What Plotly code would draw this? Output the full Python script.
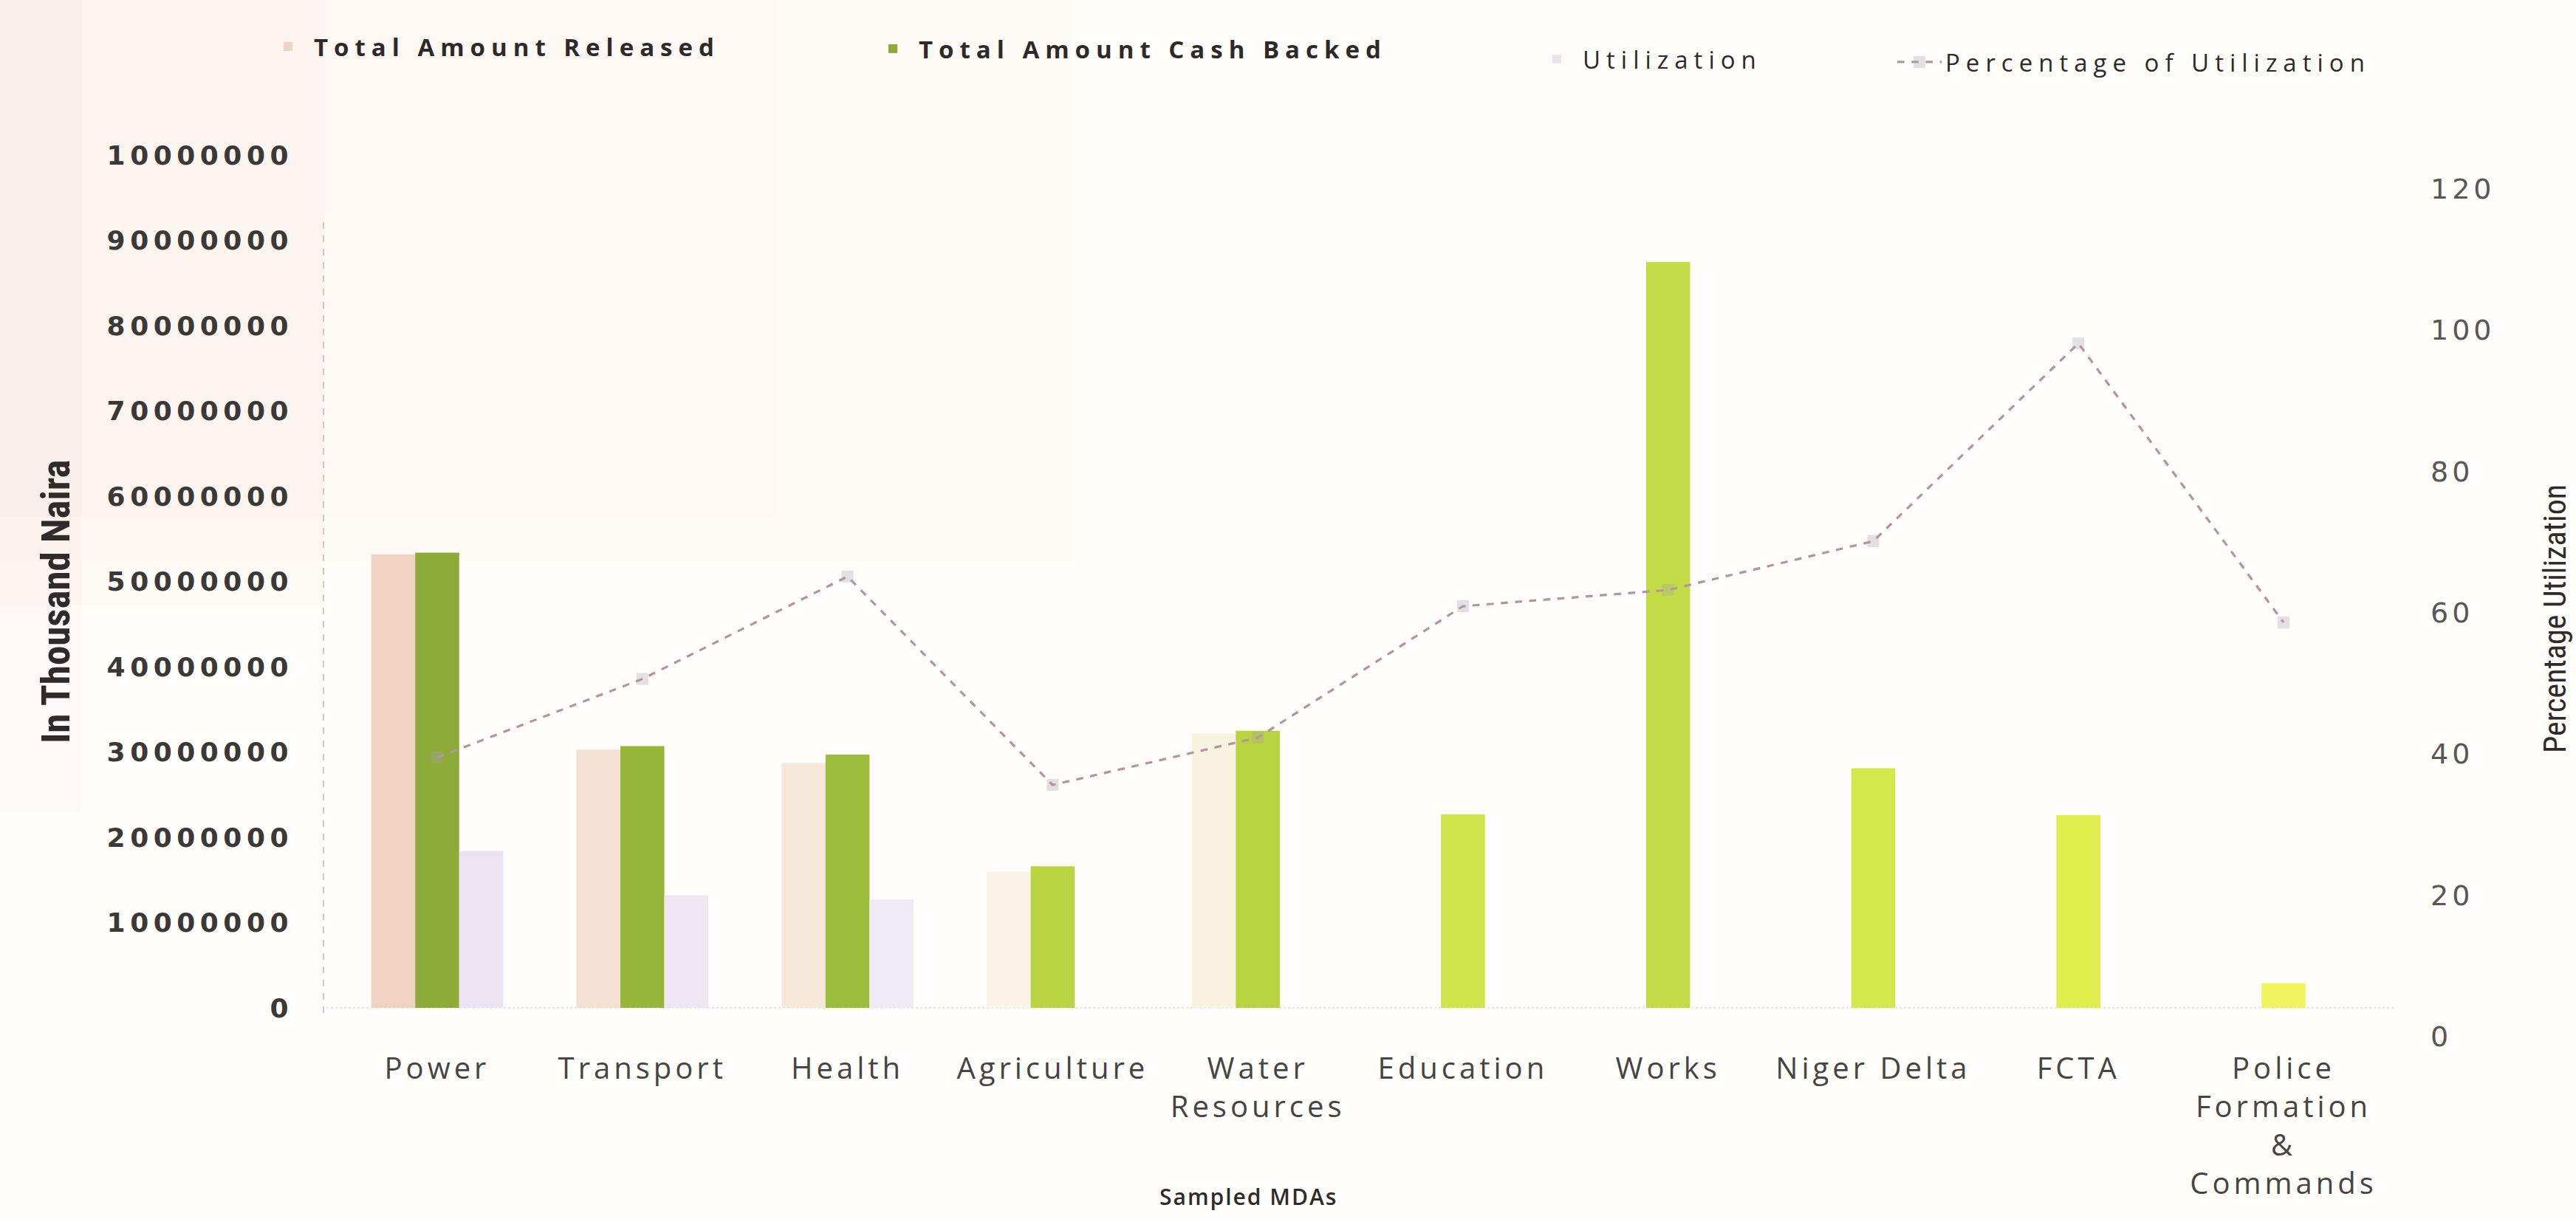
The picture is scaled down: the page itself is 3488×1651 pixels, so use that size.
import plotly.graph_objects as go

# Sampled MDAs (category labels, line breaks as printed under the axis)
mda_labels = [
    "Power", "Transport", "Health", "Agriculture", "Water<br>Resources",
    "Education", "Works", "Niger Delta", "FCTA",
    "Police<br>Formation<br>&<br>Commands",
]

# Amounts in thousand Naira
amount_released = [53200000, 30300000, 28700000, 16000000, 32200000,
                   None, None, None, None, None]
amount_cash_backed = [53400000, 30700000, 29700000, 16600000, 32500000,
                      22700000, 87500000, 28100000, 22600000, 2900000]
amount_utilized = [18400000, 13200000, 12700000,
                   None, None, None, None, None, None, None]

# Percentage of utilization (right axis)
pct_utilization = [39.5, 50.6, 65.1, 35.6, 42.3, 60.9, 63.2, 70.1, 98.1, 58.6]

# Axis ticks
left_tick_values = [0, 10000000, 20000000, 30000000, 40000000, 50000000,
                    60000000, 70000000, 80000000, 90000000, 100000000]
left_tick_labels = ["0", "10000000", "20000000", "30000000", "40000000",
                    "50000000", "60000000", "70000000", "80000000",
                    "90000000", "10000000"]
right_tick_values = [0, 20, 40, 60, 80, 100, 120]

# Bar colours (faded print tones)
released_colors = ["#f0d3c2", "#f4e0d1", "#f6e9da", "#faf4e6", "#f8f2e0",
                   "#ffffff", "#ffffff", "#ffffff", "#ffffff", "#ffffff"]
cash_colors = ["#8cab37", "#95b639", "#9cbd3b", "#b9d440", "#b8d340",
               "#cfe34a", "#c3dc45", "#d3e84b", "#dfee4c", "#eff45e"]
utilized_colors = ["#ebe2f2", "#eee7f3", "#f0eaf4", "#ffffff", "#ffffff",
                   "#ffffff", "#ffffff", "#ffffff", "#ffffff", "#ffffff"]

W, H = 3488, 1651
ML, MR, MT, MB = 442, 246, 200, 241
PW, PH = W - ML - MR, H - MT - MB


def px_x(x):
    return (x - ML) / PW


def px_y(y):
    return (H - MB - y) / PH


fig = go.Figure()

fig.add_trace(go.Bar(
    x=mda_labels, y=amount_released, name="<b>Total Amount Released</b>",
    marker=dict(color=released_colors, line=dict(width=0)),
    legend="legend",
))
fig.add_trace(go.Bar(
    x=mda_labels, y=amount_cash_backed, name="<b>Total Amount Cash Backed</b>",
    marker=dict(color=cash_colors, line=dict(width=0)),
    legend="legend2",
))
fig.add_trace(go.Bar(
    x=mda_labels, y=amount_utilized, name="Utilization",
    marker=dict(color=utilized_colors, line=dict(width=0)),
    legend="legend3",
))
fig.add_trace(go.Scatter(
    x=mda_labels, y=pct_utilization, name="Percentage of Utilization",
    yaxis="y2", mode="lines+markers",
    line=dict(color="#b7929f", width=3.2, dash="dash"),
    marker=dict(color="rgba(170,160,175,0.32)", size=16, symbol="square"),
    legend="legend4",
))

legend_common = dict(
    orientation="h", xanchor="left", yanchor="middle",
    bgcolor="rgba(0,0,0,0)", borderwidth=0,
    font=dict(family="Open Sans, sans-serif", size=33, color="#2e2a2a"),
    itemwidth=60,
)

fig.update_layout(
    template="none",
    width=W, height=H, autosize=False,
    margin=dict(l=ML, r=MR, t=MT, b=MB, pad=0),
    paper_bgcolor="#fffefb", plot_bgcolor="rgba(0,0,0,0)",
    barmode="group", bargap=0.357, bargroupgap=0,
    showlegend=True,
    legend=dict(legend_common, x=px_x(355), y=px_y(63)),
    legend2=dict(legend_common, x=px_x(1174), y=px_y(66)),
    legend3=dict(legend_common, x=px_x(2073), y=px_y(80)),
    legend4=dict(legend_common, x=px_x(2564), y=px_y(84)),
    xaxis=dict(
        type="category", tickangle=0, automargin=False,
        showgrid=False, showline=False, zeroline=False, ticks="",
        ticklabelstandoff=10,
        tickfont=dict(family="Open Sans, sans-serif", size=40, color="#474444"),
    ),
    yaxis=dict(
        range=[-3.9e6, 100.9e6], automargin=False,
        tickvals=left_tick_values, ticktext=left_tick_labels,
        showgrid=False, showline=False, zeroline=False, ticks="",
        ticklabelstandoff=44,
        tickfont=dict(family="DejaVu Sans, sans-serif", size=36,
                      color="#3b3838", weight="bold"),
    ),
    yaxis2=dict(
        range=[-0.65, 125.8], overlaying="y", side="right", automargin=False,
        tickvals=right_tick_values,
        showgrid=False, showline=False, zeroline=False, ticks="",
        ticklabelstandoff=48,
        tickfont=dict(family="DejaVu Sans, sans-serif", size=38, color="#5a5656"),
    ),
    annotations=[
        dict(text="<b>In Thousand Naira</b>", textangle=-90,
             xref="paper", yref="paper", x=px_x(76), y=px_y(815),
             showarrow=False, xanchor="center", yanchor="middle",
             font=dict(family="Liberation Sans Narrow, Roboto Condensed, Liberation Sans, sans-serif",
                       size=53, color="#2f2b2b")),
        dict(text="Percentage Utilization", textangle=-90,
             xref="paper", yref="paper", x=px_x(3459), y=px_y(838),
             showarrow=False, xanchor="center", yanchor="middle",
             font=dict(family="Liberation Sans Narrow, Roboto Condensed, Liberation Sans, sans-serif",
                       size=42, color="#2f2b2b")),
        dict(text="Sampled MDAs",
             xref="paper", yref="paper", x=px_x(1690), y=px_y(1620),
             showarrow=False, xanchor="center", yanchor="middle",
             font=dict(family="Open Sans, sans-serif", size=30,
                       color="#2f2b2b", weight=600)),
    ],
    shapes=[
        # faded pink tint in the upper-left of the page, soft steps
        dict(type="rect", xref="paper", yref="paper", layer="below",
             x0=px_x(0), x1=px_x(1450), y0=px_y(760), y1=px_y(0),
             fillcolor="rgba(236,196,188,0.06)", line=dict(width=0)),
        dict(type="rect", xref="paper", yref="paper", layer="below",
             x0=px_x(0), x1=px_x(1050), y0=px_y(700), y1=px_y(0),
             fillcolor="rgba(236,196,188,0.05)", line=dict(width=0)),
        dict(type="rect", xref="paper", yref="paper", layer="below",
             x0=px_x(0), x1=px_x(440), y0=px_y(820), y1=px_y(0),
             fillcolor="rgba(236,196,188,0.07)", line=dict(width=0)),
        dict(type="rect", xref="paper", yref="paper", layer="below",
             x0=px_x(0), x1=px_x(110), y0=px_y(1100), y1=px_y(0),
             fillcolor="rgba(236,196,188,0.08)", line=dict(width=0)),
        # faint dashed value axis
        dict(type="line", xref="paper", yref="paper", layer="below",
             x0=px_x(438), x1=px_x(438), y0=px_y(1372), y1=px_y(300),
             line=dict(color="#dcc4c4", width=2, dash="dash")),
        # faint baseline
        dict(type="line", xref="paper", yref="y", layer="below",
             x0=0, x1=1, y0=0, y1=0,
             line=dict(color="#ebe2e2", width=2, dash="dot")),
    ],
)

# Wide tracking of the printed lettering
tracking_css = (
    ".ytick text{letter-spacing:6.5px}"
    ".y2tick text{letter-spacing:5px}"
    ".xtick text{letter-spacing:5px}"
    ".infolayer g[class^='legend'] text{letter-spacing:8px}"
    ".infolayer g[class^='legend'] .scrollbox{clip-path:none !important}"
    ".annotation[data-index='2'] text{letter-spacing:2px}"
)
post_script = (
    "var s=document.createElement('style');"
    "s.textContent=\"" + tracking_css + "\";"
    "document.head.appendChild(s);"
)

fig.write_html("out.html", post_script=post_script)
